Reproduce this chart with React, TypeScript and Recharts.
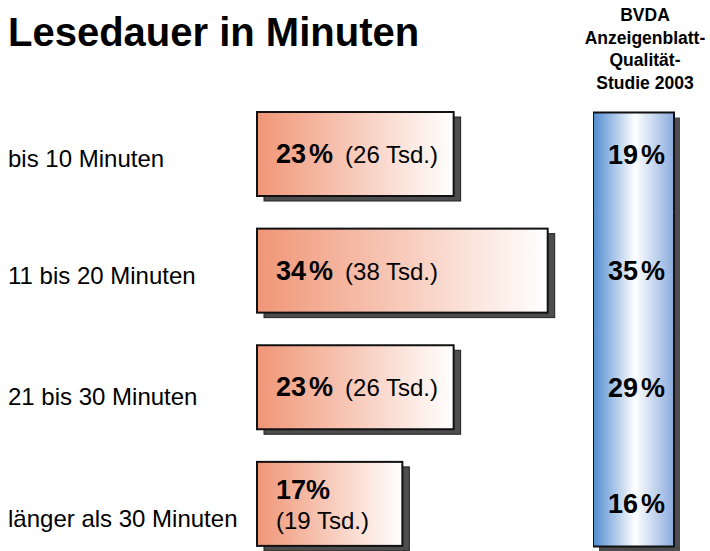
import React from "react";
import { Bar, BarChart, LabelList, XAxis, YAxis } from "recharts";

const categories = ["bis 10 Minuten", "11 bis 20 Minuten", "21 bis 30 Minuten", "länger als 30 Minuten"];
const sharePct = [23, 34, 23, 17];
const readersTsd = [26, 38, 26, 19];
const bvdaPct = [19, 35, 29, 16];
const headerLines = ["BVDA", "Anzeigenblatt-", "Qualität-", "Studie 2003"];

const rows = categories.map((label, i) => ({
  label,
  share: sharePct[i],
  readers: readersTsd[i],
  bvda: bvdaPct[i]
}));

const FONT = "'Liberation Sans', Arial, Helvetica, sans-serif";
const CHART_H = 580;
const MARGIN_TOP = 96;
const MARGIN_BOTTOM = 17.5;
const BAR_H = 84;
const tickNudge = [4, 5, 9, 14];

function CategoryTick(props: any) {
  const { y, payload, index } = props;
  return (
    <text x={8} y={y + (tickNudge[index] ?? 0)} dominantBaseline="central" fontFamily={FONT} fontSize={24} fill="#000">
      {payload.value}
    </text>
  );
}

function ShadowBar(props: any) {
  const { x, y, width, height } = props;
  return (
    <g>
      <rect x={x + 7} y={y + 5} width={width} height={height} fill="#4d4d4d" stroke="#222" strokeWidth={1} />
      <rect x={x} y={y} width={width} height={height} fill="url(#orangeFill)" stroke="#111" strokeWidth={2} />
    </g>
  );
}

function ShareLabel(props: any) {
  const { x, y, width, height, index } = props;
  const row = rows[index];
  const cy = y + height / 2;
  const tx = x + 19;
  if (width > 170) {
    return (
      <text x={tx} y={cy} dominantBaseline="central" fontFamily={FONT} fill="#000">
        <tspan fontSize={27} fontWeight="bold">{row.share}</tspan>
        <tspan fontSize={27} fontWeight="bold" dx={3}>%</tspan>
        <tspan fontSize={24} dx={12}>({row.readers} Tsd.)</tspan>
      </text>
    );
  }
  return (
    <g>
      <text x={tx} y={cy - 14} dominantBaseline="central" fontFamily={FONT} fontSize={27} fontWeight="bold" fill="#000">
        {row.share}%
      </text>
      <text x={tx} y={cy + 17} dominantBaseline="central" fontFamily={FONT} fontSize={24} fill="#000">
        ({row.readers} Tsd.)
      </text>
    </g>
  );
}

function ColumnSegment(props: any) {
  const { y, height, index } = props;
  const bg = props.background ?? { x: props.x, width: 81 };
  const last = index === rows.length - 1;
  const trim = (height - BAR_H) / 2;
  const top = index === 0 ? y + trim : y;
  // overlap the next segment by a pixel so no seam shows
  const bottom = last ? y + height - trim : y + height + 1;
  const left = bg.x;
  const right = bg.x + bg.width;
  return (
    <g>
      <rect x={left + 6} y={top + 5} width={bg.width} height={bottom - top} fill="#4d4d4d" />
      <rect x={left} y={top} width={bg.width} height={bottom - top} fill="url(#blueFill)" />
      <line x1={left} x2={left} y1={top} y2={bottom} stroke="#111" strokeWidth={2} />
      <line x1={right} x2={right} y1={top} y2={bottom} stroke="#111" strokeWidth={2} />
      {index === 0 && <line x1={left - 1} x2={right + 1} y1={top} y2={top} stroke="#111" strokeWidth={2} />}
      {last && <line x1={left - 1} x2={right + 1} y1={bottom} y2={bottom} stroke="#111" strokeWidth={2} />}
    </g>
  );
}

function BvdaLabel(props: any) {
  const { y, height, index } = props;
  const cx = (props.viewBox?.x ?? 0) + 81 / 2;
  return (
    <text x={cx + 3} y={y + height / 2} dominantBaseline="central" textAnchor="middle" fontFamily={FONT} fill="#000">
      <tspan fontSize={27} fontWeight="bold">{rows[index].bvda}</tspan>
      <tspan fontSize={27} fontWeight="bold" dx={3}>%</tspan>
    </text>
  );
}

export default function App() {
  return (
    <div style={{ position: "relative", width: 710, height: 551, overflow: "hidden", background: "#fff" }}>
      <style>{"body{margin:0}"}</style>

      <svg width={710} height={120} style={{ position: "absolute", left: 0, top: 0 }}>
        <text x={8} y={46} fontFamily={FONT} fontSize={40} fontWeight="bold" fill="#000">
          Lesedauer in Minuten
        </text>
        {headerLines.map((line, i) => (
          <text key={line} x={645} y={21 + i * 22.5} textAnchor="middle" fontFamily={FONT} fontSize={17.5} fontWeight="bold" fill="#000">
            {line}
          </text>
        ))}
      </svg>

      <div style={{ position: "absolute", left: 0, top: 0 }}>
        <BarChart
          data={rows}
          layout="vertical"
          width={600}
          height={CHART_H}
          margin={{ top: MARGIN_TOP, right: 1, left: 0, bottom: MARGIN_BOTTOM }}
        >
          <defs>
            <linearGradient id="orangeFill" x1="0" x2="1" y1="0" y2="0">
              <stop offset="0%" stopColor="#f09677" />
              <stop offset="100%" stopColor="#ffffff" />
            </linearGradient>
          </defs>
          <XAxis type="number" domain={[0, 40]} hide />
          <YAxis
            type="category"
            dataKey="label"
            width={257}
            axisLine={false}
            tickLine={false}
            tick={<CategoryTick />}
          />
          <Bar dataKey="share" barSize={BAR_H} shape={<ShadowBar />} isAnimationActive={false}>
            <LabelList dataKey="share" content={<ShareLabel />} />
          </Bar>
        </BarChart>
      </div>

      <div style={{ position: "absolute", left: 593, top: 0 }}>
        <BarChart
          data={rows}
          layout="vertical"
          width={90}
          height={CHART_H}
          barCategoryGap={0}
          margin={{ top: MARGIN_TOP, right: 9, left: 0, bottom: MARGIN_BOTTOM }}
        >
          <defs>
            <linearGradient id="blueFill" x1="0" x2="1" y1="0" y2="0">
              <stop offset="0%" stopColor="#508bd0" />
              <stop offset="52%" stopColor="#ffffff" />
              <stop offset="100%" stopColor="#8aabdd" />
            </linearGradient>
          </defs>
          <XAxis type="number" domain={[0, 100]} hide />
          <YAxis type="category" dataKey="label" hide />
          <Bar dataKey="bvda" shape={<ColumnSegment />} isAnimationActive={false}>
            <LabelList dataKey="bvda" content={<BvdaLabel />} />
          </Bar>
        </BarChart>
      </div>
    </div>
  );
}
